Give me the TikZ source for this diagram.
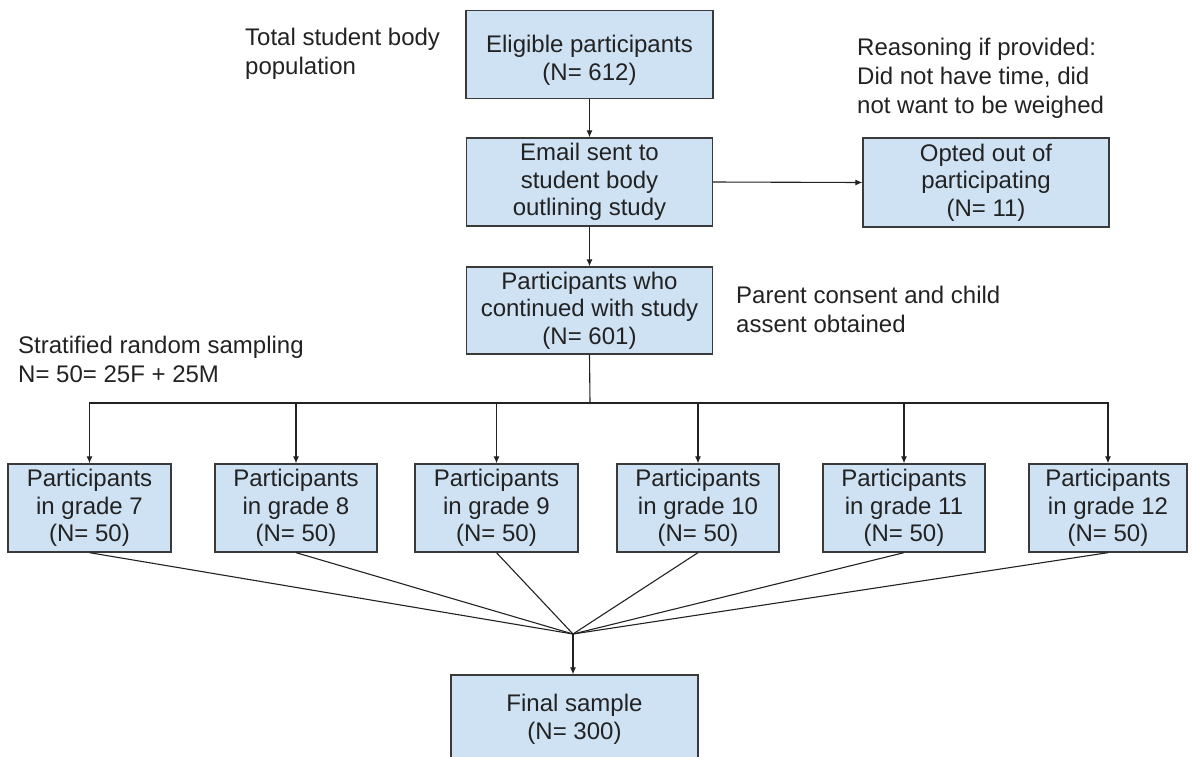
\documentclass[tikz,border=0pt]{standalone}
\usepackage{fontspec}
\setmainfont{Liberation Sans}
\usetikzlibrary{arrows.meta}
\definecolor{boxfill}{HTML}{CFE2F3}
\definecolor{boxline}{HTML}{3A3A3A}
\definecolor{ink}{HTML}{222222}
\begin{document}
\begin{tikzpicture}[x=1pt,y=-1pt,
  box/.style={draw=boxline, line width=1.3pt, fill=boxfill, align=center, inner sep=0pt,
    font=\fontsize{24}{27.6}\selectfont, text=ink, execute at begin node={\rule{0pt}{23.5pt}}},
  note/.style={align=left, inner sep=0pt, font=\fontsize{24}{28.6}\selectfont, anchor=base west, text=ink},
  conn/.style={draw=ink, line width=1.1pt},
  arr/.style={conn, -{Latex[length=7pt,width=6pt]}}]
\useasboundingbox (0,0) rectangle (1193,756);
\clip (0,0) rectangle (1193,756);

\node[box, minimum width=247pt, minimum height=88pt] (elig) at (589.5,54.5) {\rule{0pt}{29.5pt}Eligible participants\\(N= 612)};
\node[box, minimum width=246pt, minimum height=88pt] (email) at (589.5,182) {Email sent to\\student body\\outlining study};
\node[box, minimum width=246pt, minimum height=89pt] (opted) at (986,182.5) {Opted out of\\participating\\(N= 11)};
\node[box, minimum width=246pt, minimum height=87pt] (cont) at (589.5,310.5) {Participants who\\continued with study\\(N= 601)};

\node[box, minimum width=163pt, minimum height=88pt] (g7) at (89.5,508) {Participants\\in grade 7\\(N= 50)};
\node[box, minimum width=162pt, minimum height=88pt] (g8) at (296,508) {Participants\\in grade 8\\(N= 50)};
\node[box, minimum width=163pt, minimum height=88pt] (g9) at (496.5,508) {Participants\\in grade 9\\(N= 50)};
\node[box, minimum width=162pt, minimum height=88pt] (g10) at (698,508) {Participants\\in grade 10\\(N= 50)};
\node[box, minimum width=162pt, minimum height=88pt] (g11) at (904,508) {Participants\\in grade 11\\(N= 50)};
\node[box, minimum width=158pt, minimum height=88pt] (g12) at (1108,508) {Participants\\in grade 12\\(N= 50)};

\node[box, minimum width=247pt, minimum height=88pt] (final) at (574.5,719) {Final sample\\(N= 300)};

\node[note] (n1) at (245,74) {Total student body\\population};
\node[note] (n2) at (857,113) {Reasoning if provided:\\Did not have time, did\\not want to be weighed};
\node[note] (n3) at (736,332) {Parent consent and child\\assent obtained};
\node[note] (n4) at (18,382) {Stratified random sampling\\N= 50= 25F + 25M};

\coordinate (branch) at (590,403);
\coordinate (conv) at (573,634);

\draw[arr] (elig.south) -- (email.north);
\draw[arr] (email.east) -- (opted.west);
\draw[arr] (email.south) -- (cont.north);
\draw[conn] (cont.south) -- (branch);
\foreach \g in {g7,g8,g9,g10,g11,g12}{
  \draw[arr] (branch) -| (\g.north);
  \draw[conn] (\g.south) -- (conv);
}
\draw[arr] (conv) -- (conv |- final.north);
\end{tikzpicture}
\end{document}
